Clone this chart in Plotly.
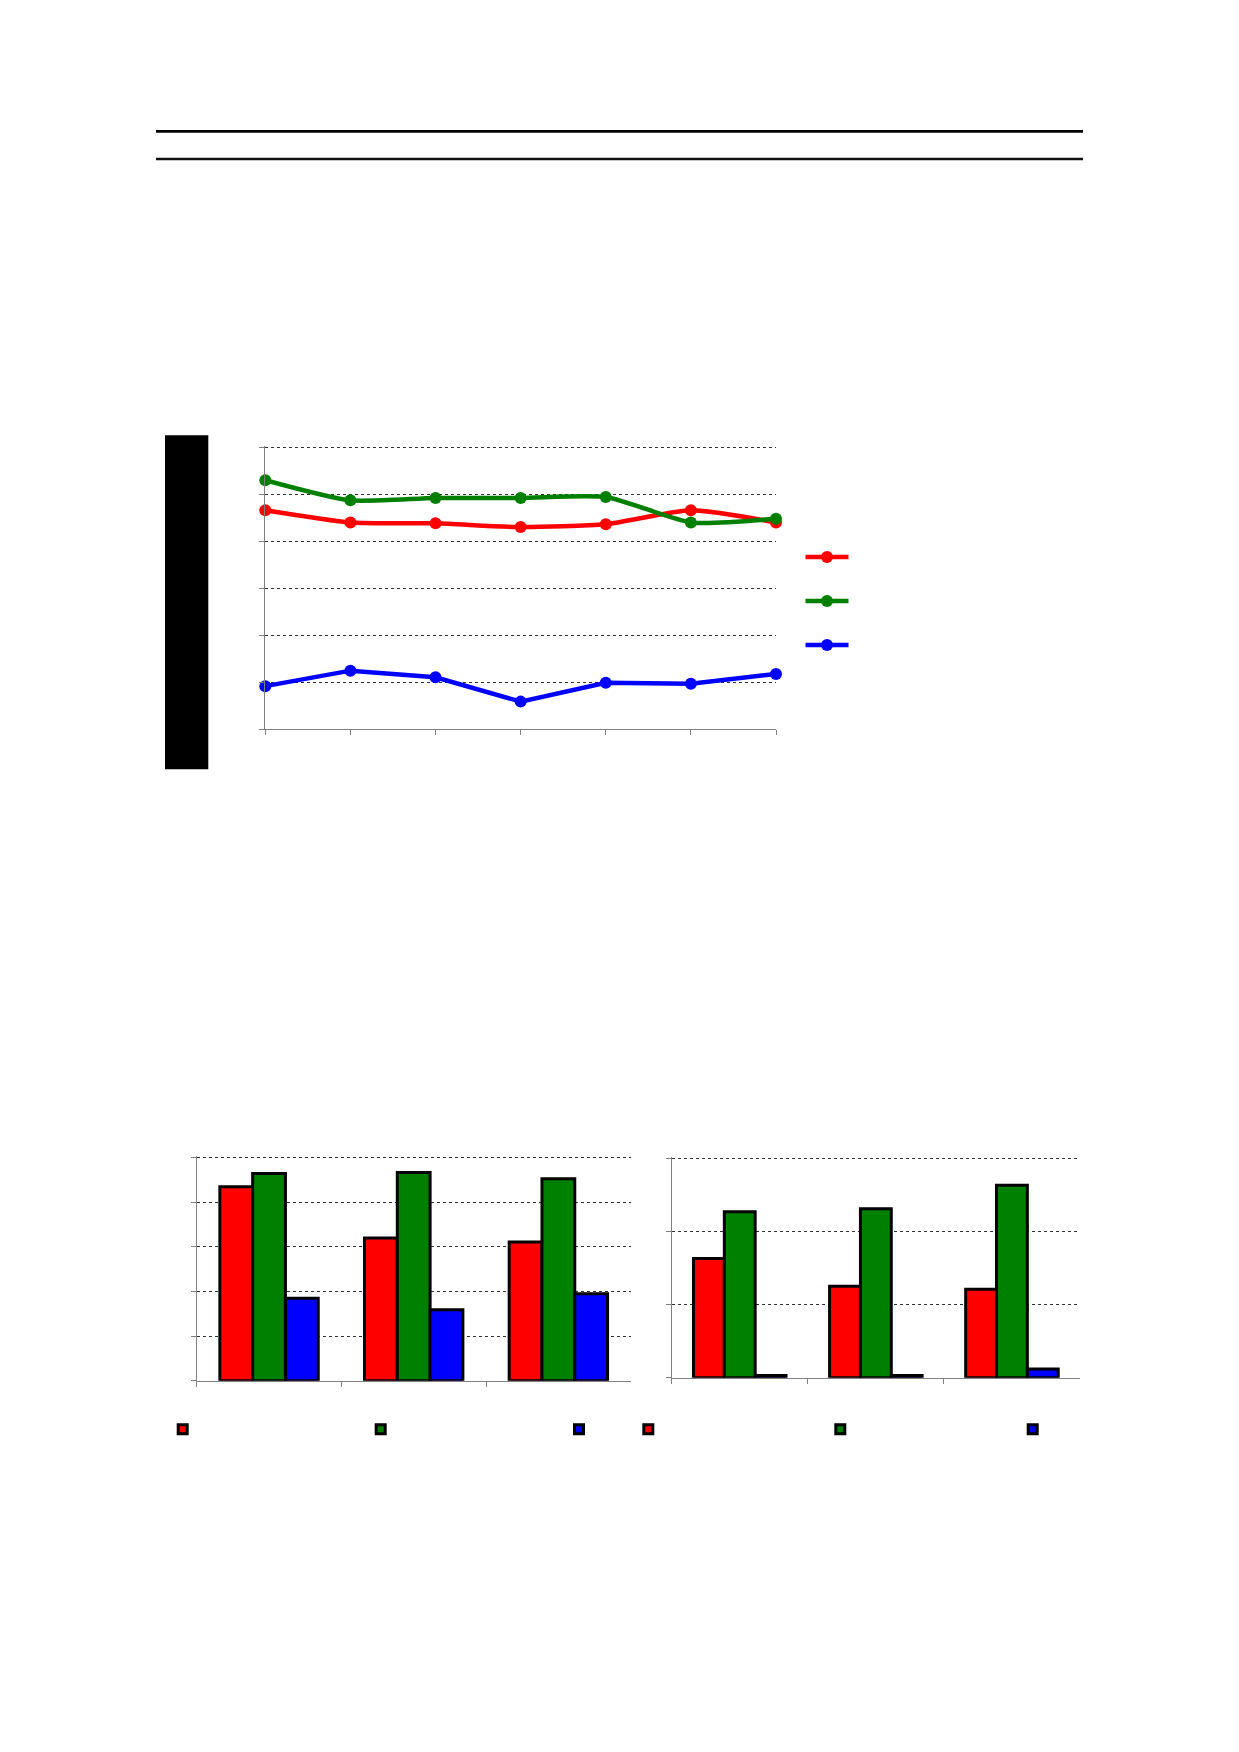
import plotly.graph_objects as go

W, H = 1239, 1752

line_x = [0, 1, 2, 3, 4, 5, 6]
line_red = [4.67, 4.41, 4.39, 4.31, 4.37, 4.67, 4.41]
line_green = [5.31, 4.88, 4.93, 4.93, 4.95, 4.41, 4.49]
line_blue = [0.92, 1.25, 1.11, 0.59, 0.99, 0.97, 1.18]

# bar charts (3 groups each)
bar_x = [0, 1, 2]
left_red = [4.35, 3.20, 3.11]
left_green = [4.65, 4.67, 4.53]
left_blue = [1.85, 1.59, 1.95]
right_red = [1.63, 1.25, 1.21]
right_green = [2.27, 2.31, 2.63]
right_blue = [0.03, 0.03, 0.12]

colors = {'red': '#ff0000', 'green': '#008000', 'blue': '#0000ff'}


def px(x):
    return x / W


def py(y):
    return 1 - y / H


def yaxis_box(bottom, top, vmax, pad=1.4):
    # plotly drops a gridline sitting on the plot edge, so leave a little headroom
    h = bottom - top
    return [py(bottom), py(top - pad)], [0, vmax * (h + pad) / h]


fig = go.Figure()

# line chart, each series in its own little legend box
for i, (key, vals, shape) in enumerate([('red', line_red, 'spline'),
                                         ('green', line_green, 'spline'),
                                         ('blue', line_blue, 'linear')]):
    fig.add_trace(go.Scatter(
        x=line_x, y=vals, mode='lines+markers', name=' ', cliponaxis=False,
        line=dict(color=colors[key], width=4.5, shape=shape, smoothing=0.6),
        marker=dict(color=colors[key], size=12),
        xaxis='x', yaxis='y', legend='legend%d' % (i + 2)))

# bar charts; legend keys are drawn by marker-only entries in the same group
bar_sets = [('x2', 'y2', [('red', left_red), ('green', left_green), ('blue', left_blue)]),
            ('x3', 'y3', [('red', right_red), ('green', right_green), ('blue', right_blue)])]
n = 5
for xa, ya, series in bar_sets:
    for key, vals in series:
        grp = 'g%d' % n
        fig.add_trace(go.Bar(
            x=bar_x, y=vals, name=' ', legendgroup=grp, showlegend=False,
            marker=dict(color=colors[key], line=dict(color='black', width=3)),
            xaxis=xa, yaxis=ya))
        fig.add_trace(go.Scatter(
            x=[None], y=[None], mode='markers', name=' ', legendgroup=grp,
            marker=dict(symbol='square', size=9, color=colors[key],
                        line=dict(color='black', width=3)),
            xaxis=xa, yaxis=ya, legend='legend%d' % n))
        n += 1

axis_common = dict(showline=True, linecolor='#808080', linewidth=1, zeroline=False,
                   ticks='outside', ticklen=5, tickcolor='#808080', showticklabels=False)
grid = dict(showgrid=True, gridcolor='#303030', griddash='dot', gridwidth=1)

y1_dom, y1_rng = yaxis_box(729.3, 447.8, 6)
y2_dom, y2_rng = yaxis_box(1380.7, 1157.8, 5)
y3_dom, y3_rng = yaxis_box(1377.7, 1158.3, 3)

layout = dict(
    width=W, height=H, margin=dict(l=0, r=0, t=0, b=0),
    paper_bgcolor='white', plot_bgcolor='white', showlegend=True,
    barmode='group', bargap=0.32, bargroupgap=0,
    xaxis=dict(domain=[px(265.3), px(776)], range=[0, 6], tickvals=line_x,
               showgrid=False, anchor='y', **axis_common),
    yaxis=dict(domain=y1_dom, range=y1_rng, dtick=1, anchor='x', **grid, **axis_common),
    xaxis2=dict(domain=[px(196.7), px(630.7)], range=[-0.5, 2.5], tickvals=[-0.5, 0.5, 1.5],
                showgrid=False, anchor='y2', **axis_common),
    yaxis2=dict(domain=y2_dom, range=y2_rng, dtick=1, anchor='x2', **grid, **axis_common),
    xaxis3=dict(domain=[px(671.7), px(1080)], range=[-0.5, 2.5], tickvals=[-0.5, 0.5, 1.5],
                showgrid=False, anchor='y3', **axis_common),
    yaxis3=dict(domain=y3_dom, range=y3_rng, dtick=1, anchor='x3', **grid, **axis_common),
)

# legend boxes: key positions on the page
legend_pos = [(826.5, 557), (826.5, 601), (826.5, 645),
              (182.7, 1429.3), (380.7, 1429.3), (579, 1429.3),
              (648.3, 1429.3), (840.3, 1429.3), (1032.7, 1429.3)]
for i, (cx, cy) in enumerate(legend_pos):
    is_line = i < 3
    layout['legend%d' % (i + 2)] = dict(
        x=px(cx - 26 if is_line else cx - 20), y=py(cy), xanchor='left', yanchor='middle',
        bgcolor='rgba(0,0,0,0)', borderwidth=0, itemwidth=43 if is_line else 30,
        font=dict(family='Liberation Sans', size=10),
        itemclick=False, itemdoubleclick=False)

fig.update_layout(**layout)

# page rules and side block
fig.add_shape(type='line', xref='paper', yref='paper', x0=px(156), x1=px(1083),
              y0=py(131.3), y1=py(131.3), line=dict(color='black', width=2.7))
fig.add_shape(type='line', xref='paper', yref='paper', x0=px(156), x1=px(1083),
              y0=py(159), y1=py(159), line=dict(color='#111111', width=2.7))
fig.add_shape(type='rect', xref='paper', yref='paper', x0=px(165), x1=px(208.3),
              y0=py(769.3), y1=py(435.3), fillcolor='black', line=dict(width=0))

fig.write_html("out.html", config={'displayModeBar': False},
               post_script="document.body.style.margin='0';")
